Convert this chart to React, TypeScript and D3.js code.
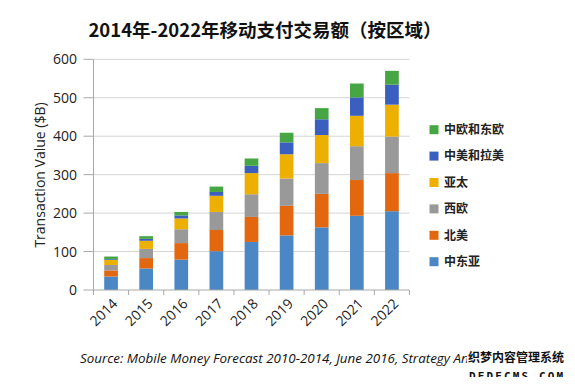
import React from "react";
import * as d3 from "d3";

const years = ["2014", "2015", "2016", "2017", "2018", "2019", "2020", "2021", "2022"];
const seriesNames = ["中东亚", "北美", "西欧", "亚太", "中美和拉美", "中欧和东欧"];
const seriesColors = ["#4A87C4", "#E2670F", "#999999", "#EEB000", "#3B5FBE", "#47A644"];
const midEastAsia = [35, 56, 79, 101, 125, 142, 163, 193, 205];
const northAmerica = [16, 27, 43, 55, 65, 77, 87, 93, 99];
const westEurope = [14, 24, 36, 47, 59, 71, 80, 88, 95];
const asiaPacific = [13, 21, 28, 42, 55, 63, 73, 79, 83];
const latinAmerica = [2, 5, 8, 10, 19, 31, 41, 48, 52];
const eastEurope = [7, 7, 9, 14, 19, 25, 29, 36, 36];
const yTicks = [0, 100, 200, 300, 400, 500, 600];
const title = "2014年-2022年移动支付交易额（按区域）";
const yLabel = "Transaction Value ($B)";
const source = "Source: Mobile Money Forecast 2010-2014, June 2016, Strategy Analytics";

const W = 575;
const H = 385;
const left = 93.5;
const right = 409.5;
const top = 59.3;
const bottom = 290;

export default function App() {
  const values = [midEastAsia, northAmerica, westEurope, asiaPacific, latinAmerica, eastEurope];
  const table = years.map((y, i) => {
    const row: any = { year: y };
    seriesNames.forEach((s, j) => (row[s] = values[j][i]));
    return row;
  });
  const stacked = d3.stack().keys(seriesNames)(table);
  const x = d3.scaleBand().domain(years).range([left, right]).paddingInner(0.61).paddingOuter(0.305);
  const y = d3.scaleLinear().domain([0, 600]).range([bottom, top]);
  const step = (right - left) / years.length;

  return (
    <div style={{ margin: -8 }}>
      <svg width={W} height={H} style={{ display: "block", background: "#fff" }}>
        <defs>
          <clipPath id="srcClip">
            <rect x={0} y={340} width={467} height={45} />
          </clipPath>
        </defs>
        <text x={265} y={37} textAnchor="middle" fontFamily="'Noto Sans CJK SC', 'Noto Sans', sans-serif" fontWeight={700} fontSize={18.5} fill="#111">
          {title}
        </text>
        {yTicks.map((t) => (
          <g key={t}>
            {t > 0 && <line x1={left} x2={right} y1={y(t)} y2={y(t)} stroke="#d4d4d4" strokeWidth={1} />}
            <line x1={left - 10} x2={left} y1={y(t)} y2={y(t)} stroke="#a8a8a8" strokeWidth={1} />
            <text x={77} y={y(t)} dy="0.36em" textAnchor="end" fontFamily="'Open Sans', 'Liberation Sans', sans-serif" fontSize={14} fill="#222">
              {t}
            </text>
          </g>
        ))}
        {stacked.map((layer, j) => (
          <g key={layer.key} fill={seriesColors[j]}>
            {layer.map((d, i) => (
              <rect key={i} x={x(years[i])} width={x.bandwidth()} y={y(d[1])} height={y(d[0]) - y(d[1])} />
            ))}
          </g>
        ))}
        <line x1={left} x2={left} y1={top} y2={bottom} stroke="#a8a8a8" strokeWidth={1} />
        <line x1={left} x2={right} y1={bottom} y2={bottom} stroke="#a8a8a8" strokeWidth={1} />
        {d3.range(years.length + 1).map((i) => (
          <line key={i} x1={left + i * step} x2={left + i * step} y1={bottom} y2={bottom + 5} stroke="#a8a8a8" strokeWidth={1} />
        ))}
        {years.map((yr) => {
          const cx = (x(yr) as number) + x.bandwidth() / 2 + 4;
          const cy = bottom + 11;
          return (
            <text key={yr} x={cx} y={cy} transform={`rotate(-45 ${cx} ${cy})`} textAnchor="end" dy="0.35em" fontFamily="'Open Sans', 'Liberation Sans', sans-serif" fontSize={14} fill="#222">
              {yr}
            </text>
          );
        })}
        <text transform={`translate(40 175) rotate(-90)`} textAnchor="middle" dy="0.35em" fontFamily="'Open Sans', 'Liberation Sans', sans-serif" fontSize={14} fill="#222">
          {yLabel}
        </text>
        {seriesNames.map((s, j) => {
          const ly = 261.7 - j * 26.4;
          return (
            <g key={s}>
              <rect x={429.5} y={ly - 4.5} width={9} height={9} fill={seriesColors[j]} />
              <text x={444} y={ly} dy="0.36em" fontFamily="'Noto Sans CJK SC', sans-serif" fontWeight={700} fontSize={12} fill="#222">
                {s}
              </text>
            </g>
          );
        })}
        <text x={80} y={363} clipPath="url(#srcClip)" fontFamily="'Open Sans', 'Liberation Sans', sans-serif" fontStyle="italic" fontSize={13.4} fill="#111">
          {source}
        </text>
        <g fontWeight={700} stroke="#fff" strokeWidth={3} paintOrder="stroke" fill="#111">
          <text x={468} y={362} fontFamily="'Noto Sans CJK SC', sans-serif" fontSize={12} textLength={96} lengthAdjust="spacingAndGlyphs">织梦内容管理系统</text>
          <text x={469} y={380} fontFamily="'DejaVu Sans Mono', monospace" fontSize={11} textLength={94} lengthAdjust="spacing">DEDECMS.COM</text>
        </g>
      </svg>
    </div>
  );
}
